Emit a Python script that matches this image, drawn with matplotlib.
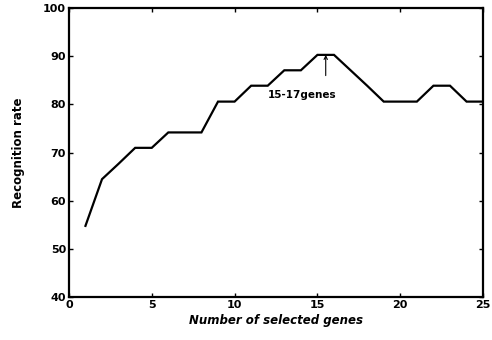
import matplotlib
matplotlib.use("Agg")
import matplotlib.pyplot as plt

plt.rcParams["font.family"] = ["DejaVu Sans"]

# recognition rate vs. number of selected genes
n_genes = list(range(1, 26))
rate = [54.8, 64.5, 67.7, 71.0, 71.0, 74.2, 74.2, 74.2, 80.6, 80.6,
        83.9, 83.9, 87.1, 87.1, 90.3, 90.3, 87.1, 83.9, 80.6, 80.6,
        80.6, 83.9, 83.9, 80.6, 80.6]

xticks = [0, 5, 10, 15, 20, 25]
yticks = [40, 50, 60, 70, 80, 90, 100]

note_text = "15-17genes"
note_xy = (15.5, 90.3)
note_text_xy = (15.5, 86.0)

fig = plt.figure(figsize=(4.92, 3.40), dpi=100)
ax = fig.add_axes([0.140, 0.126, 0.842, 0.850])

ax.plot(n_genes, rate, color="black", linewidth=1.6, solid_joinstyle="miter")

ax.set_xlim(0, 25)
ax.set_ylim(40, 100)
ax.set_xticks(xticks)
ax.set_yticks(yticks)
ax.tick_params(direction="in", top=True, right=True, length=3, width=1,
               labelsize=8, pad=2)
for lab in ax.get_xticklabels() + ax.get_yticklabels():
    lab.set_fontweight("bold")
for sp in ax.spines.values():
    sp.set_linewidth(1.6)

ax.set_xlabel("Number of selected genes", fontsize=8.5, fontweight="bold",
              fontstyle="italic", labelpad=3)
ax.set_ylabel("Recognition rate", fontsize=8.5, fontweight="bold", labelpad=13)

ax.annotate("", xy=note_xy, xytext=note_text_xy,
            arrowprops=dict(arrowstyle="->", color="black", lw=0.8,
                            mutation_scale=6, shrinkA=0, shrinkB=0))
ax.text(14.1, 81.9, note_text, fontsize=7.5, fontweight="bold",
        ha="center", va="center")

fig.savefig("out.png", dpi=100)
